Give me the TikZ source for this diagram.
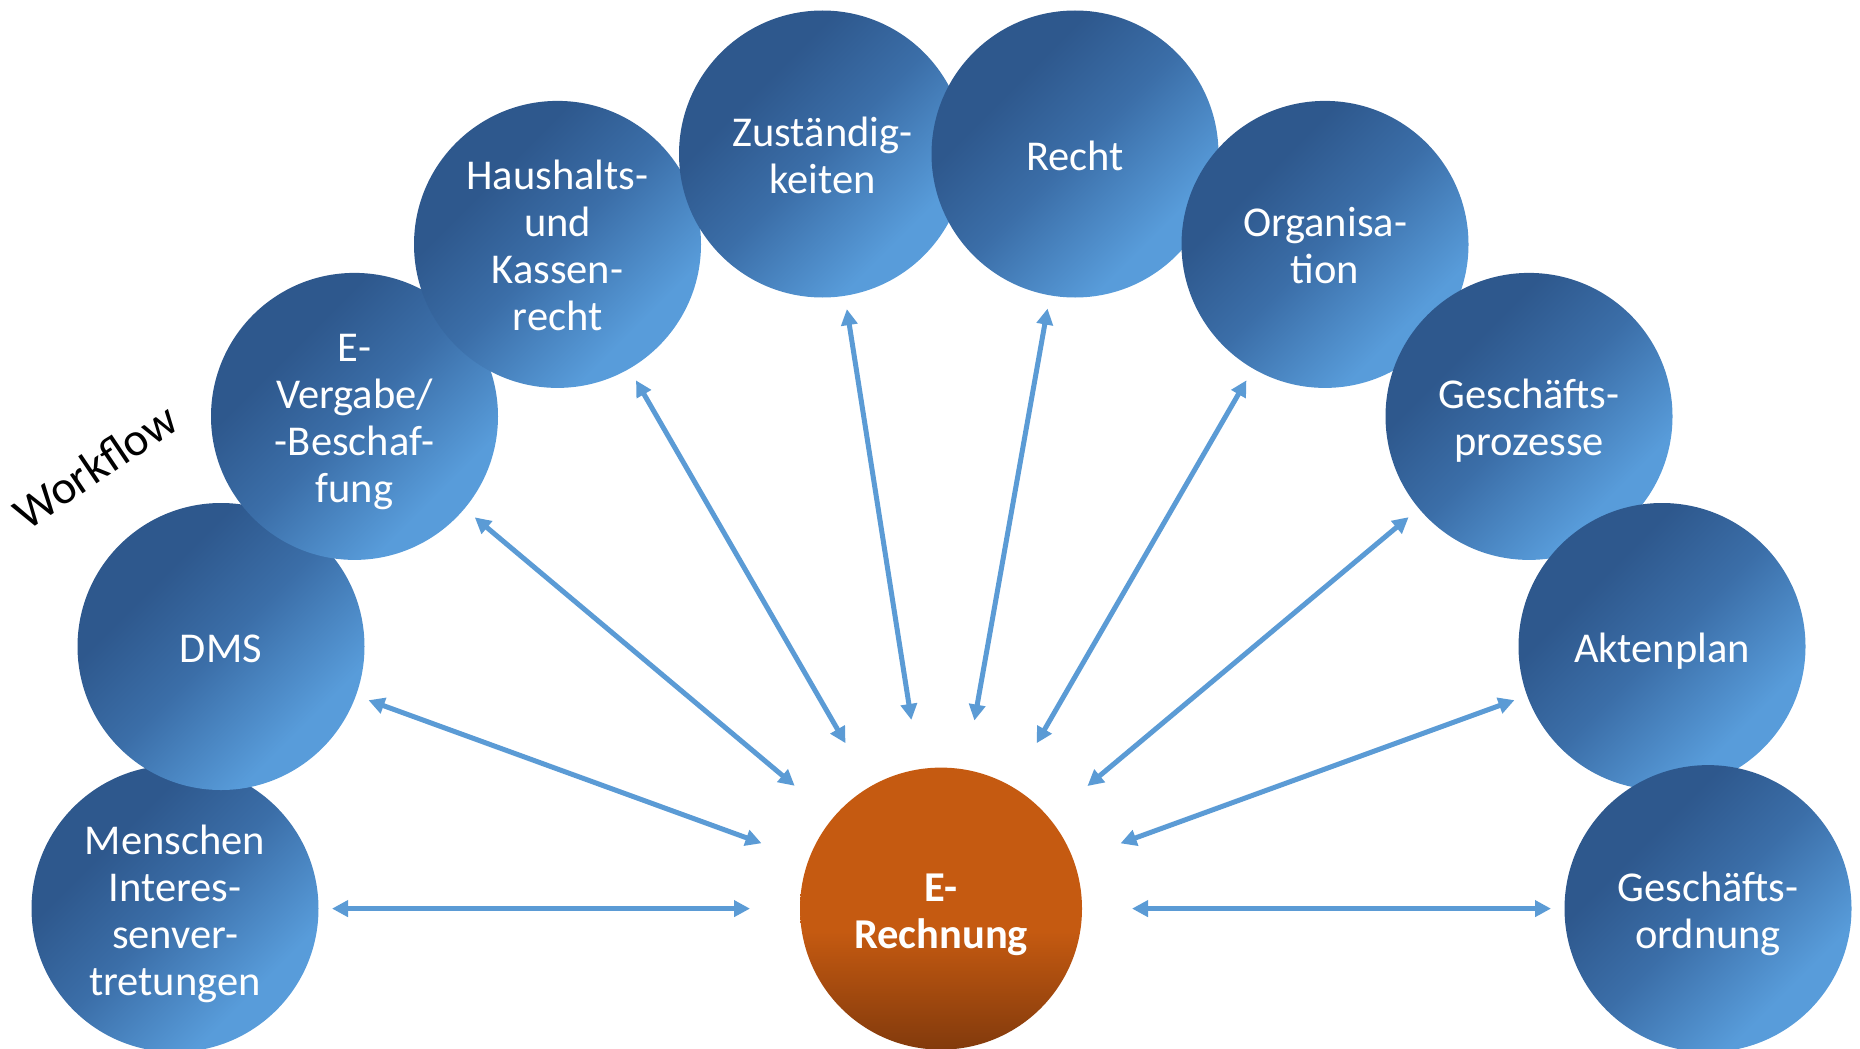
\documentclass[tikz,border=0pt]{standalone}
\usepackage{fontspec}
\setmainfont{Carlito}
\usetikzlibrary{arrows.meta}
\definecolor{darkb}{RGB}{46,88,141}
\definecolor{midb}{RGB}{59,110,168}
\definecolor{lightb}{RGB}{88,156,218}
\definecolor{arrowb}{RGB}{91,155,213}
\definecolor{orng}{RGB}{197,90,17}
\definecolor{orngd}{RGB}{130,58,12}
\pgfdeclareverticalshading{bluegrad}{100bp}{color(0bp)=(lightb); color(30bp)=(lightb); color(50bp)=(midb); color(66bp)=(darkb); color(100bp)=(darkb)}
\pgfdeclareverticalshading{orangegrad}{100bp}{color(0bp)=(orngd); color(25bp)=(orngd); color(46bp)=(orng); color(100bp)=(orng)}
\newcommand{\topst}{\rule{0pt}{46pt}}
\newcommand{\botst}{\rule[-14pt]{0pt}{14pt}}
\tikzset{
  bub/.style={circle, minimum size=287pt, inner sep=0pt, shade, shading=bluegrad, shading angle=45,
    text=white, font=\fontsize{42.5}{47}\selectfont, align=center},
  centre/.style={bub, minimum size=282pt, shading=orangegrad, shading angle=0,
    font=\fontsize{42.5}{47}\selectfont\bfseries},
  arr/.style={draw=arrowb, line width=5pt,
    {Triangle[length=16pt,width=16pt]}-{Triangle[length=16pt,width=16pt]},
    shorten <=157pt, shorten >=191pt},
  wf/.style={font=\fontsize{47}{52}\selectfont, text=black, rotate=34}
}
\begin{document}
\begin{tikzpicture}[x=1pt,y=-1pt]
\useasboundingbox (0,0) rectangle (1860,1049);
\clip (0,0) rectangle (1860,1049);
\node[bub] (men) at (175,908.6) {\topst Menschen\\Interes-\\senver-\\tretungen\botst};
\node[bub] (dms) at (221,646.5) {\topst DMS\botst};
\node[bub] (ev) at (354.5,416.4) {\topst E-\\Vergabe/\\-Beschaf-\\fung\botst};
\node[bub] (hh) at (557.5,244.4) {\topst Haushalts-\\und\\Kassen-\\recht\botst};
\node[bub] (zu) at (822.5,154) {\topst Zuständig-\\keiten\botst};
\node[bub] (re) at (1075,154) {\topst Recht\botst};
\node[bub] (org) at (1325,244.4) {\topst Organisa-\\tion\botst};
\node[bub] (gp) at (1529,416.4) {\topst Geschäfts-\\prozesse\botst};
\node[bub] (ak) at (1662,646.5) {\topst Aktenplan\botst};
\node[bub] (go) at (1708,908.6) {\topst Geschäfts-\\ordnung\botst};
\node[centre] (er) at (941,908.6) {\topst E-\\Rechnung\botst};
\node[wf] (wfl) at (95,466) {Workflow};
\foreach \n in {men,dms,ev,hh,zu,re,org,gp,ak,go}{
  \draw[arr] (\n.center) -- (er.center);
}
\end{tikzpicture}
\end{document}
